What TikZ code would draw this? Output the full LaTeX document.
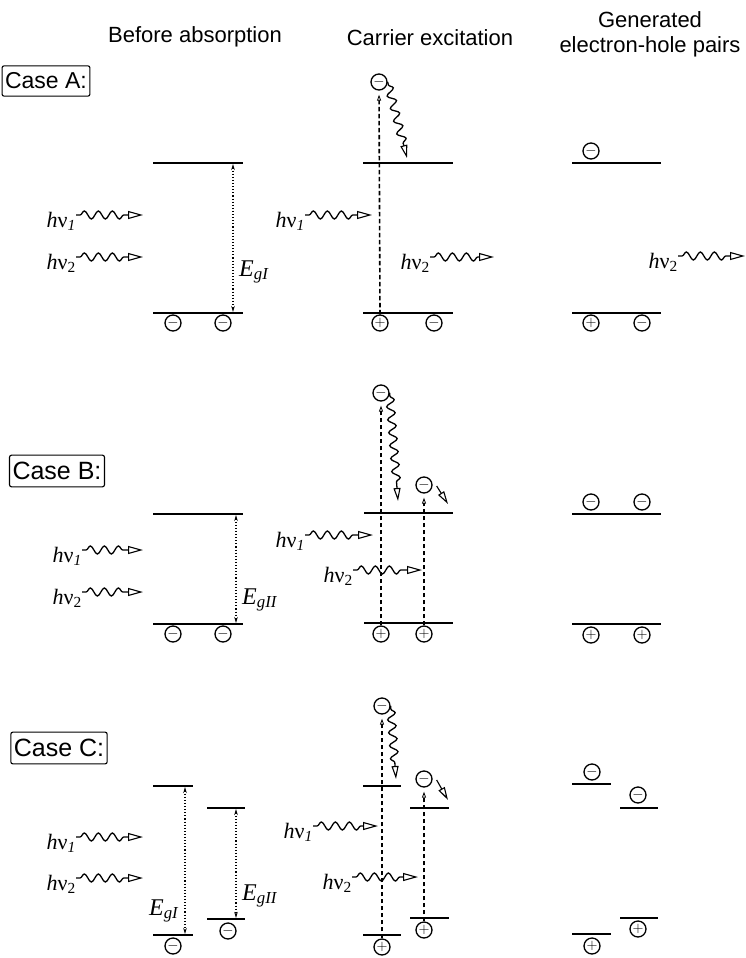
\documentclass[tikz,border=0pt]{standalone}
\usepackage{fontspec}
\setmainfont{Liberation Serif}
\setsansfont{Liberation Sans}
\usetikzlibrary{arrows.meta, decorations.pathmorphing}

\newcommand{\hnu}[1]{\textit{h}ν\textsubscript{#1}}
\newcommand{\Eg}[1]{\textit{E}\textsubscript{\textit{g#1}}}

\begin{document}
\begin{tikzpicture}[x=1pt, y=-1pt,
    head/.style={font=\sffamily\fontsize{22}{25}\selectfont, align=center, inner sep=0pt},
    casebox/.style={draw, rounded corners=2pt, line width=1.1pt, font=\sffamily\fontsize{23}{25}\selectfont, inner xsep=3pt, inner ysep=7pt},
    band/.style={line width=1.6pt},
    elec/.style={circle, draw, line width=1.3pt, minimum size=16pt, inner sep=0pt, font=\fontsize{14}{14}\selectfont},
    hnu/.style={font=\fontsize{22}{24}\selectfont, inner sep=0pt, anchor=base east},
    gaplabel/.style={font=\fontsize{24}{26}\selectfont, inner sep=0pt},
    photon/.style={line width=1.3pt, decorate, decoration={snake, amplitude=4pt, segment length=14pt, pre length=4pt, post length=15pt}, -{Triangle[open, length=15pt, width=8pt, line width=1.1pt]}},
    relax/.style={line width=1.3pt, decorate, decoration={snake, amplitude=4pt, segment length=13pt, pre length=3pt, post length=13pt}, -{Triangle[open, length=13pt, width=7pt, line width=1.1pt]}},
    kick/.style={line width=1.1pt, -{Triangle[open, length=13pt, width=7pt]}},
    jump/.style={line width=1.6pt, dash pattern=on 4.5pt off 2.5pt, -{Triangle[open, length=6pt, width=4pt, line width=0.8pt]}, shorten >=4pt},
    gap/.style={line width=1.1pt, dotted, {Stealth[length=6pt, width=3.5pt]}-{Stealth[length=6pt, width=3.5pt]}}
]
    \useasboundingbox (0,0) rectangle (746,958);

    % Column headings
    \node[head] (head1) at (195,37) {Before absorption};
    \node[head] (head2) at (430,38) {Carrier excitation};
    \node[head] (head3) at (650,34) {Generated\\electron-hole pairs};

    % ---------------- Case A ----------------
    \node[casebox] (caseA) at (46,81) {Case A:};

    % before absorption
    \draw[band] (153,163) -- (243,163);
    \draw[band] (153,313) -- (243,313);
    \node[elec] (A0e1) at (173,323) {$-$};
    \node[elec] (A0e2) at (223,323) {$-$};
    \coordinate (A0c) at (233,164);
    \coordinate (A0v) at (233,312);
    \draw[gap] (A0c) -- (A0v);
    \node[gaplabel, anchor=west] (A0g) at (239,272) {\Eg{I}};
    \node[hnu] (A0p1) at (76,227) {\hnu{\textit{1}}};
    \node[hnu] (A0p2) at (76,269) {\hnu{2}};
    \coordinate (A0p1t) at (143,215);
    \coordinate (A0p2t) at (143,257);
    \draw[photon] ([yshift=12pt]A0p1.base east) -- (A0p1t);
    \draw[photon] ([yshift=12pt]A0p2.base east) -- (A0p2t);

    % carrier excitation
    \draw[band] (363,163) -- (453,163);
    \draw[band] (363,313) -- (453,313);
    \node[elec] (A1e) at (379,82) {$-$};
    \node[elec] (A1h) at (380,323) {$+$};
    \node[elec] (A1e2) at (434,323) {$-$};
    \draw[jump] (A1h.north) -- (A1e.south);
    \coordinate (A1r) at (407,158);
    \draw[relax] (A1e.east) -- (A1r);
    \node[hnu] (A1p1) at (305,227) {\hnu{\textit{1}}};
    \node[hnu] (A1p2) at (430,269) {\hnu{2}};
    \coordinate (A1p1t) at (372,215);
    \coordinate (A1p2t) at (494,257);
    \draw[photon] ([yshift=12pt]A1p1.base east) -- (A1p1t);
    \draw[photon] ([yshift=12pt]A1p2.base east) -- (A1p2t);

    % generated pairs
    \draw[band] (572,163) -- (661,163);
    \draw[band] (572,313) -- (661,313);
    \node[elec] (A2e) at (591,151) {$-$};
    \node[elec] (A2h) at (591,323) {$+$};
    \node[elec] (A2e2) at (642,323) {$-$};
    \node[hnu] (A2p2) at (678,268) {\hnu{2}};
    \coordinate (A2p2t) at (745,256);
    \draw[photon] ([yshift=12pt]A2p2.base east) -- (A2p2t);

    % ---------------- Case B ----------------
    \node[casebox, font=\sffamily\fontsize{25}{27}\selectfont] (caseB) at (57,471) {Case B:};

    % before absorption
    \draw[band] (153,514) -- (243,514);
    \draw[band] (153,624) -- (243,624);
    \node[elec] (B0e1) at (173,634) {$-$};
    \node[elec] (B0e2) at (223,634) {$-$};
    \coordinate (B0c) at (236,515);
    \coordinate (B0v) at (236,623);
    \draw[gap] (B0c) -- (B0v);
    \node[gaplabel, anchor=west] (B0g) at (242,600) {\Eg{II}};
    \node[hnu] (B0p1) at (82,562) {\hnu{\textit{1}}};
    \node[hnu] (B0p2) at (82,604) {\hnu{2}};
    \coordinate (B0p1t) at (143,550);
    \coordinate (B0p2t) at (143,592);
    \draw[photon] ([yshift=12pt]B0p1.base east) -- (B0p1t);
    \draw[photon] ([yshift=12pt]B0p2.base east) -- (B0p2t);

    % carrier excitation
    \draw[band] (364,513) -- (453,513);
    \draw[band] (364,623) -- (453,623);
    \node[elec] (B1e) at (381,393) {$-$};
    \node[elec] (B1e2) at (424,485) {$-$};
    \node[elec] (B1h) at (381,634) {$+$};
    \node[elec] (B1h2) at (424,634) {$+$};
    \draw[jump] (B1h.north) -- (B1e.south);
    \draw[jump] (B1h2.north) -- (B1e2.south);
    \coordinate (B1r) at (398,501);
    \draw[relax] (B1e.east) -- (B1r);
    \coordinate (B1k) at (448,504);
    \draw[kick] ([xshift=4pt,yshift=-1pt]B1e2.east) -- (B1k);
    \node[hnu] (B1p1) at (305,547) {\hnu{\textit{1}}};
    \node[hnu] (B1p2) at (353,582) {\hnu{2}};
    \coordinate (B1p1t) at (373,535);
    \coordinate (B1p2t) at (422,570);
    \draw[photon] ([yshift=12pt]B1p1.base east) -- (B1p1t);
    \draw[photon] ([yshift=12pt]B1p2.base east) -- (B1p2t);

    % generated pairs
    \draw[band] (572,514) -- (661,514);
    \draw[band] (572,624) -- (661,624);
    \node[elec] (B2e) at (591,502) {$-$};
    \node[elec] (B2e2) at (642,502) {$-$};
    \node[elec] (B2h) at (591,635) {$+$};
    \node[elec] (B2h2) at (642,635) {$+$};

    % ---------------- Case C ----------------
    \node[casebox, font=\sffamily\fontsize{25}{27}\selectfont] (caseC) at (59,748) {Case C:};

    % before absorption
    \draw[band] (153,786) -- (193,786);
    \draw[band] (153,935) -- (193,935);
    \draw[band] (207,808) -- (245,808);
    \draw[band] (207,919) -- (245,919);
    \node[elec] (C0e1) at (173,946) {$-$};
    \node[elec] (C0e2) at (228,931) {$-$};
    \coordinate (C0c) at (185,787);
    \coordinate (C0v) at (185,934);
    \coordinate (C0c2) at (236,809);
    \coordinate (C0v2) at (236,918);
    \draw[gap] (C0c) -- (C0v);
    \draw[gap] (C0c2) -- (C0v2);
    \node[gaplabel] (C0g) at (164,911) {\Eg{I}};
    \node[gaplabel, anchor=west] (C0g2) at (242,896) {\Eg{II}};
    \node[hnu] (C0p1) at (76,849) {\hnu{\textit{1}}};
    \node[hnu] (C0p2) at (76,890) {\hnu{2}};
    \coordinate (C0p1t) at (143,837);
    \coordinate (C0p2t) at (143,878);
    \draw[photon] ([yshift=12pt]C0p1.base east) -- (C0p1t);
    \draw[photon] ([yshift=12pt]C0p2.base east) -- (C0p2t);

    % carrier excitation
    \draw[band] (363,786) -- (401,786);
    \draw[band] (363,935) -- (401,935);
    \draw[band] (410,808) -- (449,808);
    \draw[band] (410,918) -- (449,918);
    \node[elec] (C1e) at (382,706) {$-$};
    \node[elec] (C1e2) at (424,779) {$-$};
    \node[elec] (C1h) at (382,947) {$+$};
    \node[elec] (C1h2) at (424,930) {$+$};
    \draw[jump] (C1h.north) -- (C1e.south);
    \draw[jump] (C1h2.north) -- (C1e2.south);
    \coordinate (C1r) at (396,779);
    \draw[relax] (C1e.east) -- (C1r);
    \coordinate (C1k) at (448,800);
    \draw[kick] ([xshift=4pt,yshift=-1pt]C1e2.east) -- (C1k);
    \node[hnu] (C1p1) at (313,838) {\hnu{\textit{1}}};
    \node[hnu] (C1p2) at (352,889) {\hnu{2}};
    \coordinate (C1p1t) at (378,826);
    \coordinate (C1p2t) at (418,877);
    \draw[photon] ([yshift=12pt]C1p1.base east) -- (C1p1t);
    \draw[photon] ([yshift=12pt]C1p2.base east) -- (C1p2t);

    % generated pairs
    \draw[band] (572,784) -- (611,784);
    \draw[band] (572,934) -- (611,934);
    \draw[band] (620,808) -- (658,808);
    \draw[band] (620,918) -- (658,918);
    \node[elec] (C2e) at (592,772) {$-$};
    \node[elec] (C2e2) at (638,795) {$-$};
    \node[elec] (C2h) at (592,946) {$+$};
    \node[elec] (C2h2) at (638,929) {$+$};

\end{tikzpicture}
\end{document}
